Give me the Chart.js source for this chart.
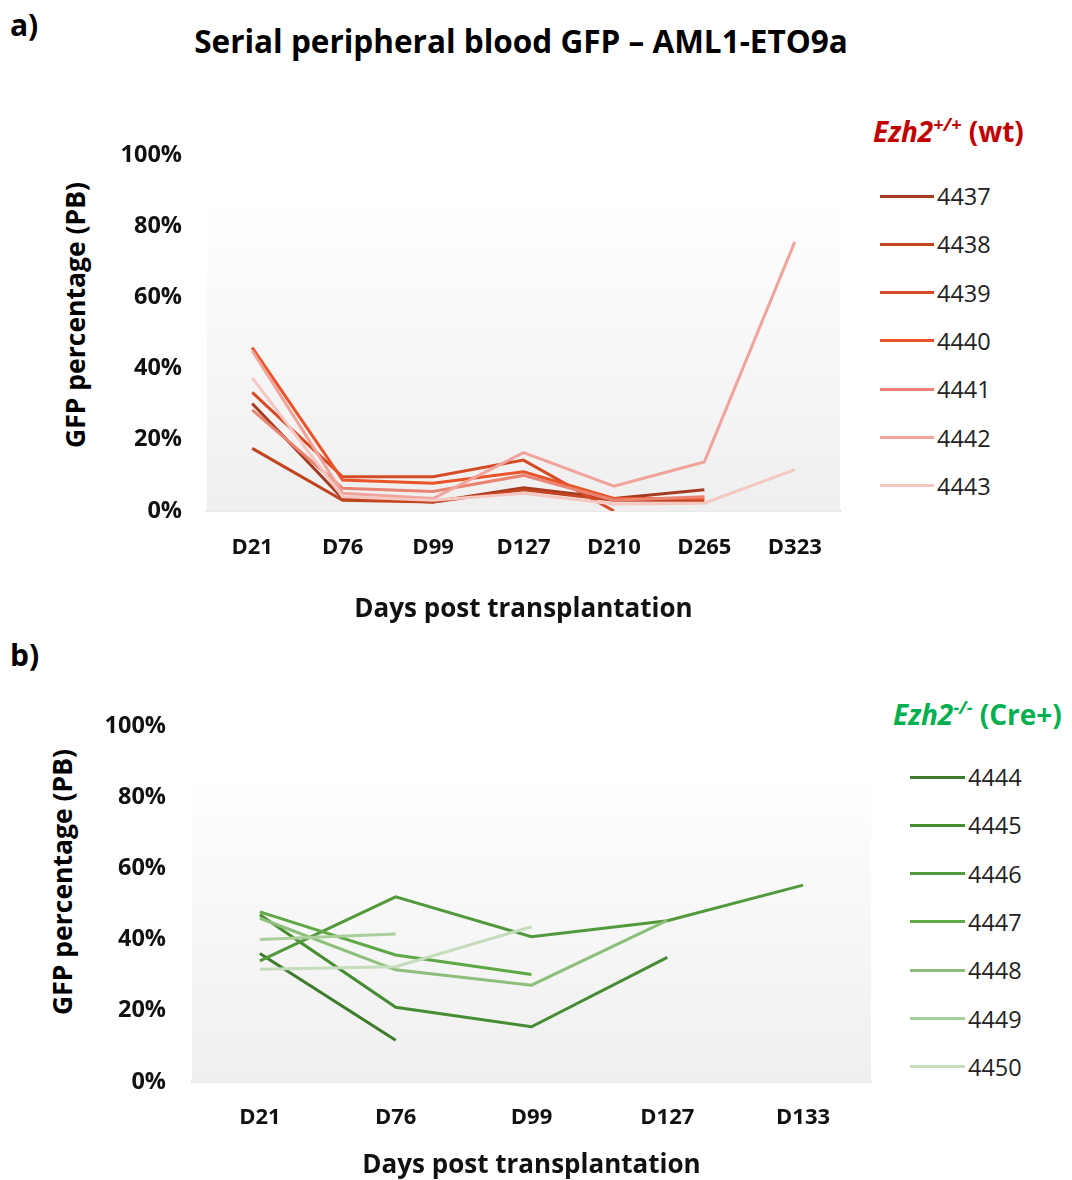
<!DOCTYPE html>
<html>
<head>
<meta charset="utf-8">
<title>Serial peripheral blood GFP</title>
<script src="https://cdn.jsdelivr.net/npm/chart.js@4.4.0/dist/chart.umd.min.js"></script>
<style>
  body { margin: 0; background: #fff; width: 1072px; height: 1180px; position: relative; overflow: hidden;
         font-family: 'Open Sans', Lato, sans-serif; color: #000; }
  .abs { position: absolute; white-space: nowrap; }
  .panel { font-weight: bold; font-size: 30px; line-height: 1; }
  .title { font-weight: bold; font-size: 31.5px; line-height: 1; transform: translate(-50%, -50%); }
  .ytitle { font-weight: bold; font-size: 26.5px; line-height: 1; transform: translate(-50%, -50%) rotate(-90deg); }
  .head { font-weight: bold; font-size: 28px; line-height: 1; transform: translateY(-50%); }
  .head i sup { font-size: 18px; vertical-align: 11px; }
  .row { height: 28px; transform: translateY(-50%); display: flex; align-items: center; font-size: 23.5px; color: #222; }
  .row span.sw { display: inline-block; height: 3px; margin-right: 3px; }
  canvas { position: absolute; }
</style>
</head>
<body>

<div class="abs panel" style="left:10px; top:10px;">a)</div>
<div class="abs title" style="left:521px; top:41px;">Serial peripheral blood GFP – AML1-ETO9a</div>
<div class="abs panel" style="left:10px; top:640px;">b)</div>

<div class="abs ytitle" style="left:75px; top:315px;">GFP percentage (PB)</div>
<div class="abs ytitle" style="left:62px; top:882px;">GFP percentage (PB)</div>

<div class="abs head" style="left:873px; top:130px; color:#c00000;"><i>Ezh2<sup>+/+</sup></i> (wt)</div>
<div class="abs head" style="left:893px; top:713px; color:#00b050;"><i>Ezh2<sup>-/-</sup></i> (Cre+)</div>

<div id="legendA"></div>
<div id="legendB"></div>

<canvas id="chartA" width="860" height="640" style="left:0; top:0;"></canvas>
<canvas id="chartB" width="880" height="545" style="left:0; top:640px;"></canvas>

<script>
// ---- panel a: Ezh2 +/+ (wt) ----
const daysA = ['D21', 'D76', 'D99', 'D127', 'D210', 'D265', 'D323'];
const miceA = ['4437', '4438', '4439', '4440', '4441', '4442', '4443'];
const m4437 = [30.2, 3.5, 2.5, 6.5, 3.5, 6.0, null];
const m4438 = [17.6, 3.0, 2.5, 6.0, 3.0, 3.0, null];
const m4439 = [33.3, 9.6, 9.6, 14.3, 0.0, null, null];
const m4440 = [45.9, 8.7, 7.8, 11.0, 3.5, 3.5, null];
const m4441 = [28.4, 6.4, 5.5, 10.0, 3.0, 4.0, null];
const m4442 = [45.0, 5.0, 3.5, 16.4, 7.0, 13.8, 75.6];
const m4443 = [37.4, 4.0, 3.0, 5.0, 2.0, 2.2, 11.6];
const valuesA = [m4437, m4438, m4439, m4440, m4441, m4442, m4443];
const colorsA = ['#a53b21', '#c2441f', '#d64b25', '#ea5428', '#e98372', '#f0a49b', '#f6c6c0'];

// ---- panel b: Ezh2 -/- (Cre+) ----
const daysB = ['D21', 'D76', 'D99', 'D127', 'D133'];
const miceB = ['4444', '4445', '4446', '4447', '4448', '4449', '4450'];
const m4444 = [36.1, 11.7, null, null, null];
const m4445 = [47.0, 21.0, 15.5, 35.0, null];
const m4446 = [34.0, 52.0, 40.8, 45.3, 55.3];
const m4447 = [47.8, 35.7, 30.2, null, null];
const m4448 = [46.0, 31.5, 27.2, 45.4, null];
const m4449 = [40.0, 41.6, null, null, null];
const m4450 = [31.7, 32.4, 43.6, null, null];
const valuesB = [m4444, m4445, m4446, m4447, m4448, m4449, m4450];
const colorsB = ['#3d7b2c', '#468c33', '#52993b', '#5ea845', '#8cbf7a', '#a9cf9b', '#c5ddba'];

const yTicks = [0, 20, 40, 60, 80, 100];
const FONT = "'Open Sans', Lato, sans-serif";

// soft white -> grey plot background, Excel style
const plotFill = {
    id: 'plotFill',
    beforeDatasetsDraw(chart, args, opts) {
        const { ctx, chartArea } = chart;
        const top = chartArea.top + opts.inset;
        const g = ctx.createLinearGradient(0, top, 0, chartArea.bottom);
        g.addColorStop(0, '#fefefe');
        g.addColorStop(1, '#efefef');
        ctx.save();
        ctx.fillStyle = g;
        ctx.fillRect(chartArea.left, top, chartArea.right - chartArea.left, chartArea.bottom - top);
        ctx.restore();
    }
};

function makeChart(id, days, mice, values, colors, geo) {
    const datasets = values.map((v, i) => ({
        label: mice[i],
        data: v,
        borderColor: colors[i],
        backgroundColor: colors[i],
        borderWidth: 3,
        pointRadius: 0,
        tension: 0,
        spanGaps: false,
        order: values.length - i
    }));

    return new Chart(document.getElementById(id), {
        type: 'line',
        data: { labels: days, datasets },
        plugins: [plotFill],
        options: {
            responsive: false,
            devicePixelRatio: 1,
            animation: false,
            layout: { padding: { top: geo.top, right: geo.right, left: 0, bottom: 0 } },
            plugins: {
                legend: { display: false },
                tooltip: { enabled: false },
                plotFill: { inset: 55 }
            },
            scales: {
                x: {
                    offset: true,
                    grid: { display: false, drawTicks: false },
                    border: { display: true, color: '#d4d4d4', width: 1.5 },
                    ticks: { color: '#111', padding: geo.xPad, font: { family: FONT, size: 22, weight: 'bold' } },
                    title: {
                        display: true, text: 'Days post transplantation', color: '#111',
                        font: { family: FONT, size: 26, weight: 'bold' },
                        padding: { top: 0, bottom: geo.titlePad }
                    },
                    afterFit: (s) => { s.height = geo.xH; }
                },
                y: {
                    min: 0, max: 100,
                    afterBuildTicks: (s) => { s.ticks = yTicks.map(v => ({ value: v })); },
                    grid: { display: false, drawTicks: false },
                    border: { display: false },
                    ticks: {
                        color: '#111', padding: geo.yPad,
                        font: { family: FONT, size: 23.5, weight: 'bold' },
                        callback: (v) => v + '%'
                    },
                    afterFit: (s) => { s.width = geo.yW; }
                }
            }
        }
    });
}

function buildLegend(el, mice, colors, left, top0, step, swW) {
    mice.forEach((m, i) => {
        const row = document.createElement('div');
        row.className = 'abs row';
        row.style.left = left + 'px';
        row.style.top = (top0 + i * step) + 'px';
        row.innerHTML = `<span class="sw" style="width:${swW}px;background:${colors[i]}"></span>${m}`;
        el.appendChild(row);
    });
}

makeChart('chartA', daysA, miceA, valuesA, colorsA,
    { top: 155, right: 20, yW: 207, xH: 129, xPad: 24, yPad: 25, titlePad: 15 });
makeChart('chartB', daysB, miceB, valuesB, colorsB,
    { top: 86, right: 9, yW: 192, xH: 103, xPad: 23, yPad: 26, titlePad: 4 });

buildLegend(document.getElementById('legendA'), miceA, colorsA, 880, 196, 48.3, 54);
buildLegend(document.getElementById('legendB'), miceB, colorsB, 910, 777, 48.3, 55);
</script>
</body>
</html>
